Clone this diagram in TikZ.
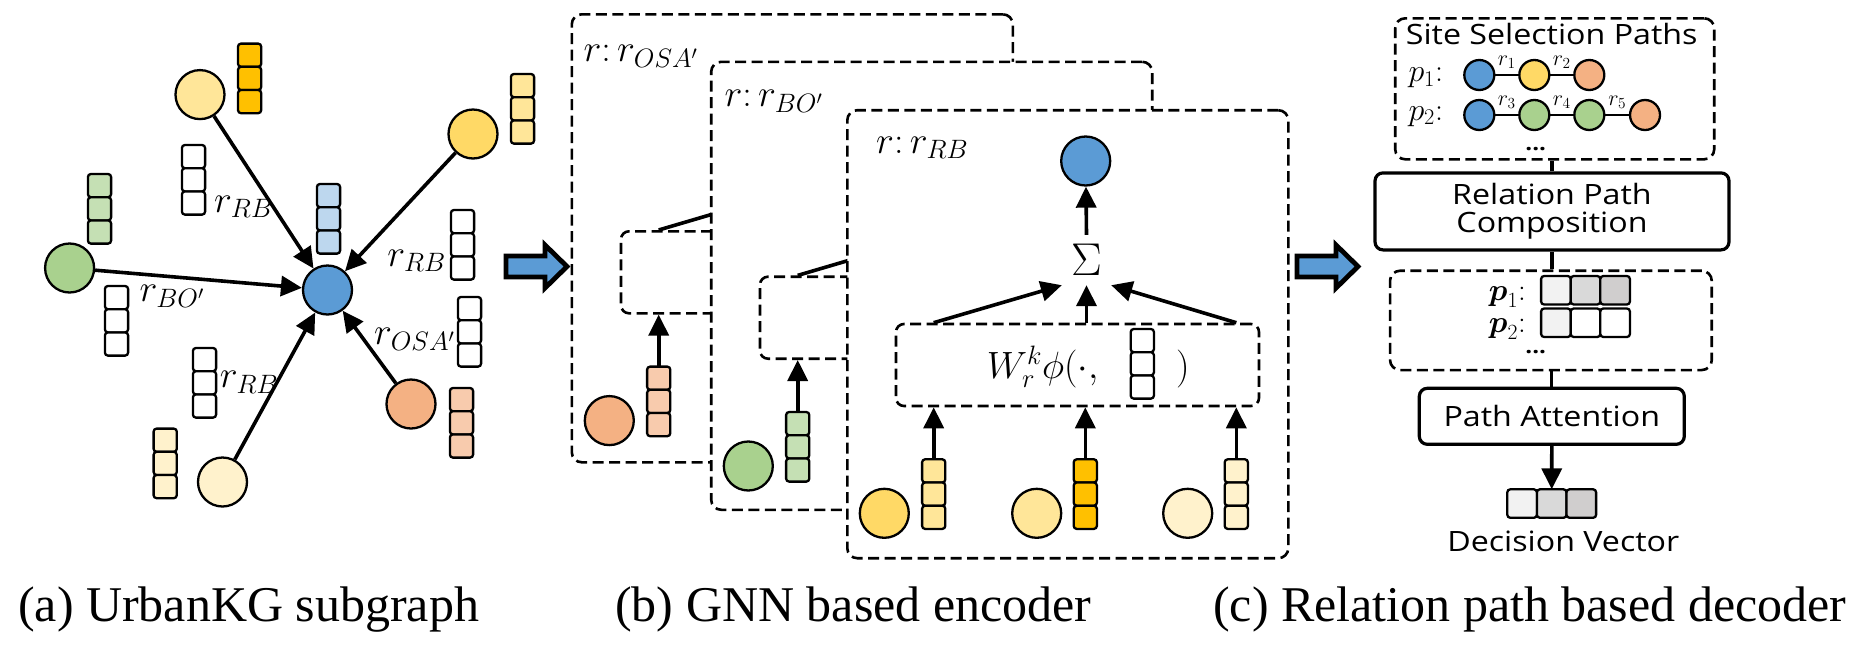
\RequirePackage{fix-cm}
\documentclass[tikz,border=0pt]{standalone}
\usepackage{amsmath}
\usepackage[no-math]{fontspec}
\usetikzlibrary{arrows.meta,calc}
\newfontfamily\capf{Liberation Serif}
\newfontfamily\yh[FakeStretch=1.15]{Open Sans}
\definecolor{cBlue}{HTML}{5B9BD5}
\definecolor{cBlueL}{HTML}{BDD7EE}
\definecolor{cGreen}{HTML}{A9D18E}
\definecolor{cGreenL}{HTML}{C5E0B4}
\definecolor{cOr}{HTML}{F4B183}
\definecolor{cOrL}{HTML}{F8CBAD}
\definecolor{cYd}{HTML}{FFD966}
\definecolor{cYb}{HTML}{FFE699}
\definecolor{cYl}{HTML}{FFF2CC}
\definecolor{cGold}{HTML}{FFC000}
\definecolor{gA}{HTML}{F2F2F2}
\definecolor{gB}{HTML}{D9D9D9}
\definecolor{gC}{HTML}{D0CECE}
\tikzset{
  ent/.style={circle,draw,line width=2.3pt,minimum size=49pt,inner sep=0pt},
  pc/.style={circle,draw,line width=2.3pt,minimum size=30pt,inner sep=0pt},
  arr/.style={line width=3.6pt,-{Triangle[length=21pt,width=20pt]}},
  dsh/.style={draw,line width=2.6pt,dash pattern=on 11pt off 5.5pt},
  layerbox/.style={dsh,fill=white,rounded corners=10pt,inner sep=0pt,minimum width=441pt,minimum height=448pt},
  innerbox/.style={dsh,rounded corners=8pt,inner sep=0pt,minimum width=363pt,minimum height=82pt},
  cellst/.style={draw,line width=2.3pt,rounded corners=3pt},
  mlbl/.style={inner sep=0pt,font=\fontsize{38}{40}\selectfont},
  solidbox/.style={draw,line width=3.2pt,rounded corners=8pt,inner sep=0pt},
  conn/.style={line width=3.2pt},
  thinl/.style={line width=2.2pt},
  sans/.style={font=\yh\fontsize{28}{28.3}\selectfont},
  rl/.style={above,inner sep=0pt,yshift=5pt,font=\fontsize{22}{24}\selectfont},
  dotsst/.style={anchor=base,inner sep=0pt,font=\yh\bfseries\fontsize{21}{21}\selectfont},
  captxt/.style={anchor=base west,inner sep=0pt,font=\capf\fontsize{50}{55}\selectfont},
  blockarr/.style={fill=cBlue,draw,line width=4.8pt,line join=miter},
  pics/vcol/.style={code={
    \coordinate (-top) at (0,0);
    \filldraw[cellst,fill=#1] (-11.6,0) rectangle ++(23.2,23.2);
    \filldraw[cellst,fill=#1] (-11.6,23.2) rectangle ++(23.2,23.2);
    \filldraw[cellst,fill=#1] (-11.6,46.4) rectangle ++(23.2,23.2);
  }},
  pics/hrow/.style n args={3}{code={
    \coordinate (-top) at (0,0);
    \filldraw[cellst,fill=#1] (-44.4,0) rectangle ++(29.6,28.5);
    \filldraw[cellst,fill=#2] (-14.8,0) rectangle ++(29.6,28.5);
    \filldraw[cellst,fill=#3] (14.8,0) rectangle ++(29.6,28.5);
  }},
}
\begin{document}
\begin{tikzpicture}[x=1pt,y=-1pt]
\useasboundingbox (0,0) rectangle (1874,665);

% ---------------- (a) UrbanKG subgraph ----------------
\node[ent,fill=cBlue] (ac) at (327.5,290) {};
\node[ent,fill=cYb] (atl) at (200,94.6) {};
\node[ent,fill=cYd] (atr) at (473,134) {};
\node[ent,fill=cGreen] (ag) at (69.6,268) {};
\node[ent,fill=cYl] (ab) at (222.5,482) {};
\node[ent,fill=cOr] (ao) at (411,404) {};
\draw[arr] (atl) -- (ac);
\draw[arr] (atr) -- (ac);
\draw[arr] (ag) -- (ac);
\draw[arr] (ab) -- (ac);
\draw[arr] (ao) -- (ac);
\pic (av1) at (249.6,43.6) {vcol=cGold};
\pic (av2) at (522.5,74) {vcol=cYb};
\pic (av3) at (99.5,174) {vcol=cGreenL};
\pic (av4) at (328.5,184) {vcol=cBlueL};
\pic (av5) at (461.5,388) {vcol=cOrL};
\pic (av6) at (165.2,428.6) {vcol=cYl};
\pic (aw1) at (193.5,145) {vcol=white};
\pic (aw2) at (116.5,286) {vcol=white};
\pic (aw3) at (462.5,210) {vcol=white};
\pic (aw4) at (469.5,297) {vcol=white};
\pic (aw5) at (204.5,348) {vcol=white};
\node[mlbl,anchor=base west] (al1) at (214,212) {$r_{RB}$};
\node[mlbl,anchor=base west] (al2) at (139.3,301.8) {$r_{BO'}$};
\node[mlbl,anchor=base east] (al3) at (446,266) {$r_{RB}$};
\node[mlbl,anchor=base east] (al4) at (455,344.6) {$r_{OSA'}$};
\node[mlbl,anchor=base west] (al5) at (219.6,387.5) {$r_{RB}$};

% block arrow 1
\filldraw[blockarr] (506,256) -- (545,256) -- (545,245) -- (567,266.5) -- (545,288) -- (545,277) -- (506,277) -- cycle;

% ---------------- (b) GNN based encoder ----------------
% back layer
\node[layerbox] (L1) at (792.3,238.3) {};
\node[mlbl,anchor=base west] (L1t) at (583.3,61.7) {$r{:}\,r_{OSA'}$};
\node[innerbox] (bin) at (802.5,272.3) {};
\coordinate (bS) at (786.7,192.3);
\node[ent,fill=cOr] (ba) at (609.3,420.6) {};
\pic (bv1) at (658.7,366.6) {vcol=cOrL};
\draw[arr] (bv1-top) -- (bv1-top |- bin.south);
\draw[arr] (bv1-top |- bin.north) -- (bS);

% middle layer
\node[layerbox] (L2) at (931.7,285.8) {};
\node[mlbl,anchor=base west] (L2t) at (724.3,106.7) {$r{:}\,r_{BO'}$};
\node[innerbox] (min) at (941.5,317.7) {};
\coordinate (mS) at (925.7,237.7);
\node[ent,fill=cGreen] (ma) at (748.3,466) {};
\pic (mv1) at (797.7,412) {vcol=cGreenL};
\draw[arr] (mv1-top) -- (mv1-top |- min.south);
\draw[arr] (mv1-top |- min.north) -- (mS);

% front layer
\node[layerbox] (L3) at (1067.8,334.2) {};
\node[mlbl,anchor=base west] (L3t) at (876,153) {$r{:}\,r_{RB}$};
\node[ent,fill=cBlue] (fo) at (1085.7,161) {};
\node[inner sep=0pt,minimum width=49pt,minimum height=50pt,font=\fontsize{46}{48}\selectfont] (fs) at (1086.5,260) {$\Sigma$};
\node[innerbox] (fin) at (1077.5,365) {};
\node[mlbl,anchor=base west] (fw) at (986.7,378) {$W_r^k\phi(\cdot,$};
\pic (fvw) at (1142.3,329) {vcol=white};
\node[mlbl,anchor=base west] (frp) at (1176,378) {$)$};
\node[ent,fill=cYd] (fa) at (884.3,513.3) {};
\node[ent,fill=cYb] (fb) at (1036.7,513.3) {};
\node[ent,fill=cYl] (fc) at (1187.7,513.3) {};
\pic (fv1) at (933.7,459.3) {vcol=cYb};
\pic (fv2) at (1085.3,459.3) {vcol=cGold};
\pic (fv3) at (1236.3,459.3) {vcol=cYl};
\draw[arr] (fv1-top) -- (fv1-top |- fin.south);
\draw[arr] (fv2-top) -- (fv2-top |- fin.south);
\draw[arr] (fv3-top) -- (fv3-top |- fin.south);
\draw[arr] (fv1-top |- fin.north) -- (fs.south west);
\draw[arr] (fs.south |- fin.north) -- (fs.south);
\draw[arr] (fv3-top |- fin.north) -- (fs.south east);
\draw[arr] (fs.north) -- (fo);

% block arrow 2
\filldraw[blockarr] (1297,256) -- (1336,256) -- (1336,245) -- (1358,266.5) -- (1336,288) -- (1336,277) -- (1297,277) -- cycle;

% ---------------- (c) Relation path based decoder ----------------
\node[dsh,rounded corners=10pt,minimum width=319pt,minimum height=141pt,inner sep=0pt] (sp) at (1554.7,88.8) {};
\node[sans,anchor=base,inner sep=0pt] (spt) at (1551.7,44) {Site Selection Paths};
\node[anchor=base west,inner sep=0pt,font=\fontsize{32}{34}\selectfont] (pl1) at (1408.3,81.7) {$p_1{:}$};
\node[anchor=base west,inner sep=0pt,font=\fontsize{32}{34}\selectfont] (pl2) at (1408.3,120) {$p_2{:}$};
\node[pc,fill=cBlue] (c11) at (1479.3,75) {};
\node[pc,fill=cYd] (c12) at (1534.3,75) {};
\node[pc,fill=cOr] (c13) at (1589.3,75) {};
\node[pc,fill=cBlue] (c21) at (1479.3,115) {};
\node[pc,fill=cGreen] (c22) at (1534.3,115) {};
\node[pc,fill=cGreen] (c23) at (1589.3,115) {};
\node[pc,fill=cOr] (c24) at (1645,115) {};
\draw[thinl] (c11) -- node[rl] (r1) {$r_1$} (c12);
\draw[thinl] (c12) -- node[rl] (r2) {$r_2$} (c13);
\draw[thinl] (c21) -- node[rl] (r3) {$r_3$} (c22);
\draw[thinl] (c22) -- node[rl] (r4) {$r_4$} (c23);
\draw[thinl] (c23) -- node[rl] (r5) {$r_5$} (c24);
\node[dotsst] (d1) at (1535.7,150) {...};

\node[solidbox,minimum width=354pt,minimum height=77pt,sans,align=center] (rpc) at (1552,211.4) {Relation Path\\Composition};
\draw[conn] (rpc.north) -- (rpc.north |- sp.south);

\node[dsh,rounded corners=10pt,minimum width=321.7pt,minimum height=99.3pt,inner sep=0pt] (pb) at (1550.9,320.4) {};
\draw[conn] (rpc.south) -- (rpc.south |- pb.north);
\node[anchor=base east,inner sep=0pt,font=\fontsize{31}{33}\selectfont] (bp1) at (1526,300) {$\boldsymbol{p}_1{:}$};
\node[anchor=base east,inner sep=0pt,font=\fontsize{31}{33}\selectfont] (bp2) at (1526,332) {$\boldsymbol{p}_2{:}$};
\pic (pv1) at (1585.5,276) {hrow={gA}{gB}{gC}};
\pic (pv2) at (1585.5,308.5) {hrow={gA}{white}{white}};
\node[dotsst] (d2) at (1535.7,353) {...};

\node[solidbox,minimum width=265pt,minimum height=56pt,sans] (pa) at (1551.8,416.3) {Path Attention};
\draw[conn] (pa.north) -- (pa.north |- pb.south);
\pic (dv) at (1551.7,489.3) {hrow={gA}{gB}{gC}};
\draw[arr] (pa.south) -- (dv-top);
\node[sans,anchor=base,inner sep=0pt] (dvt) at (1563.3,551.7) {Decision Vector};

% ---------------- captions ----------------
\node[captxt] (capa) at (18,621.5) {(a) UrbanKG subgraph};
\node[captxt] (capb) at (615,621.5) {(b) GNN based encoder};
\node[captxt] (capc) at (1213,621.5) {(c) Relation path based decoder};
\end{tikzpicture}
\end{document}
